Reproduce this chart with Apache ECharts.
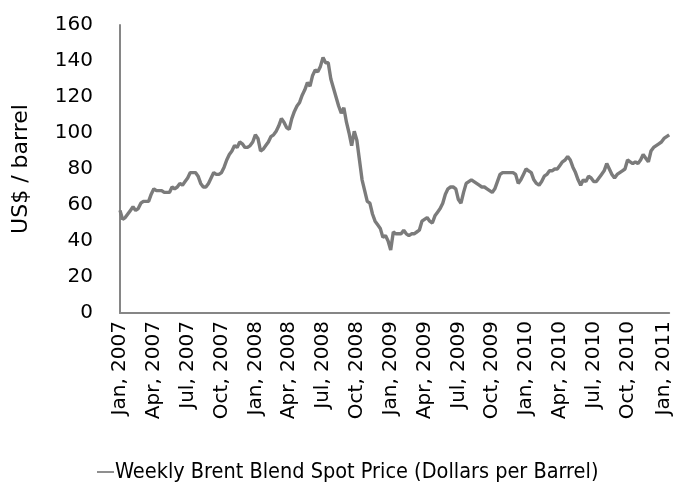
<!DOCTYPE html>
<html>
<head>
<meta charset="utf-8">
<script src="https://cdn.jsdelivr.net/npm/echarts@6/dist/echarts.min.js"></script>
<style>html,body{margin:0;padding:0;background:#fff;}#c{width:674px;height:488px;}</style>
</head>
<body>
<div id="c"></div>
<script>
// Weekly Brent Blend spot price, US$/barrel, weekly from 5 Jan 2007
var seriesName = 'Weekly Brent Blend Spot Price (Dollars per Barrel)';
var firstWeek = '2007-01-05';
var prices = [
57,52,53,55,57,59,57,58,61,62,62,62,66,69,68,68,68,67,67,67,
70,69,70,72,71,73,75,78,78,78,76,72,70,70,72,75,78,77,77,78,
81,85,88,90,93,92,95,94,92,92,93,95,99,97,90,91,93,95,98,99,
101,104,108,106,103,102,108,112,115,117,121,124,128,126,132,135,134,137,142,139,
139,130,125,120,115,111,114,106,100,93,101,96,85,74,68,62,61,55,51,49,
47,42,43,40,35,45,44,44,44,46,44,43,44,44,45,46,51,52,53,51,
50,54,56,58,61,66,69,70,70,69,63,61,67,72,73,74,73,72,71,70,
70,69,68,67,69,73,77,78,78,78,78,78,77,72,74,77,80,79,78,74,
72,71,73,76,77,79,79,80,80,82,84,85,87,85,81,78,74,71,74,73,
76,75,73,73,75,77,79,83,80,77,75,77,78,79,80,85,84,83,84,83,
85,88,86,84,90,92,93,94,95,97,98,99
];
var monthNames = ['Jan','Feb','Mar','Apr','May','Jun','Jul','Aug','Sep','Oct','Nov','Dec'];
var yTicks = {min: 0, max: 160, interval: 20};
var yName = 'US$ / barrel';

// weekly category dates
var categories = [];
var d0 = new Date(firstWeek + 'T00:00:00Z');
for (var i = 0; i < prices.length; i++) {
  var d = new Date(d0.getTime() + i * 7 * 86400000);
  categories.push(d.toISOString().slice(0, 10));
}
function isQuarterStart(s) {
  var m = +s.slice(5, 7), day = +s.slice(8, 10);
  return (m === 1 || m === 4 || m === 7 || m === 10) && day <= 7;
}
function fmt(s) {
  return monthNames[+s.slice(5, 7) - 1] + ', ' + s.slice(0, 4);
}

var chart = echarts.init(document.getElementById('c'), null, {renderer: 'canvas'});
var axisColor = '#868686';
var font = 'DejaVu Sans';
chart.setOption({
  animation: false,
  backgroundColor: '#fff',
  grid: {left: 120, right: 3, top: 25, bottom: 175, containLabel: false},
  xAxis: {
    type: 'category',
    data: categories,
    boundaryGap: false,
    axisLine: {show: true, lineStyle: {color: axisColor, width: 2}},
    axisTick: {show: false},
    splitLine: {show: false},
    axisLabel: {
      rotate: 90,
      margin: 8,
      color: '#000',
      fontFamily: font,
      fontSize: 20,
      interval: function (idx, val) { return isQuarterStart(val); },
      formatter: function (val) { return fmt(val); }
    }
  },
  yAxis: {
    type: 'value',
    min: yTicks.min, max: yTicks.max, interval: yTicks.interval,
    name: yName,
    nameLocation: 'middle',
    nameGap: 88,
    nameTextStyle: {color: '#000', fontFamily: font, fontSize: 22},
    axisLine: {show: true, lineStyle: {color: axisColor, width: 2}},
    axisTick: {show: false},
    splitLine: {show: false},
    axisLabel: {color: '#000', fontFamily: font, fontSize: 20, margin: 27}
  },
  legend: {
    bottom: 0,
    left: 92,
    icon: 'path://M0,0 L10,0 L10,1 L0,1 Z',
    itemWidth: 17, itemHeight: 3, itemGap: 0,
    textStyle: {color: '#000', fontFamily: 'DejaVu Sans Condensed', fontSize: 21.5, padding: [0,0,0,-4]},
    data: [seriesName]
  },
  series: [{
    name: seriesName,
    type: 'line',
    data: prices,
    showSymbol: false,
    symbol: 'none',
    lineStyle: {color: '#7b7b7b', width: 3.4},
    itemStyle: {color: '#7b7b7b'}
  }]
});
</script>
</body>
</html>
